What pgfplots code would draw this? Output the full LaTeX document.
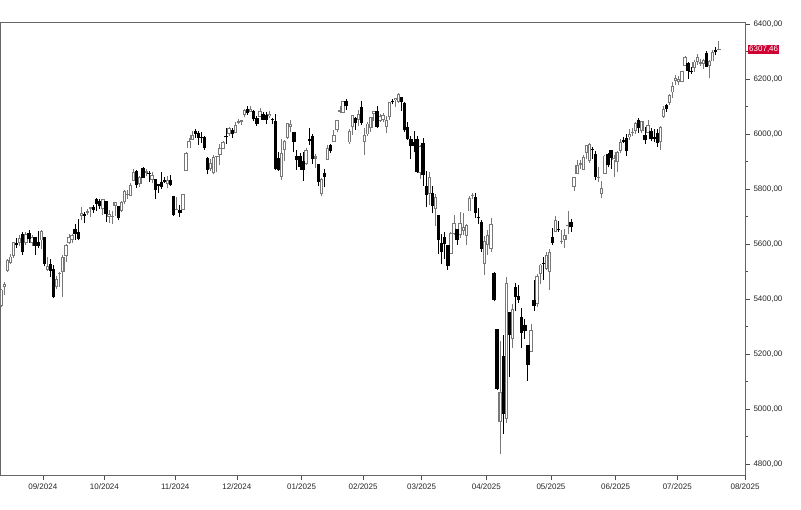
\documentclass[border=0pt]{standalone}
\usepackage{pgfplots}
\pgfplotsset{compat=1.18}
\usepackage{pgfplotstable}
\usepackage{fontspec}
\setmainfont{Liberation Sans}
\definecolor{upc}{RGB}{120,120,120}
\definecolor{lab}{RGB}{208,0,50}
\newcommand\tkf{\fontsize{8bp}{9.6bp}\selectfont}

\pgfplotstableread{
i o h l c
0 5376.1 5436.5 5370.1 5434.4
1 5442.3 5463.2 5416.0 5455.2
2 5501.8 5546.2 5497.6 5543.2
3 5530.5 5561.9 5525.7 5554.3
4 5557.2 5608.3 5550.7 5608.3
5 5602.9 5620.5 5585.5 5597.1
6 5603.1 5632.7 5591.6 5620.9
7 5637.8 5643.2 5560.9 5570.6
8 5602.0 5641.8 5595.1 5634.6
9 5639.7 5651.6 5602.3 5616.8
10 5602.9 5631.2 5593.5 5625.8
11 5624.5 5627.0 5560.9 5592.2
12 5607.3 5646.9 5583.7 5591.9
13 5612.7 5651.4 5581.3 5648.4
14 5623.9 5623.9 5521.2 5528.9
15 5506.7 5552.0 5503.4 5520.1
16 5527.6 5546.3 5480.6 5503.4
17 5507.3 5522.5 5402.6 5408.4
18 5442.1 5484.2 5434.5 5471.1
19 5490.5 5497.9 5441.7 5495.5
20 5496.4 5560.4 5407.0 5554.1
21 5557.5 5600.7 5535.5 5595.8
22 5603.3 5636.3 5601.6 5626.0
23 5615.2 5636.3 5604.5 5633.1
24 5655.5 5670.8 5614.1 5634.6
25 5641.7 5689.8 5615.1 5618.3
26 5702.6 5733.6 5686.4 5713.6
27 5709.0 5715.1 5674.5 5702.6
28 5711.9 5725.4 5704.9 5718.6
29 5727.0 5735.3 5699.0 5732.9
30 5733.6 5741.0 5712.1 5722.3
31 5762.2 5767.4 5721.0 5745.4
32 5755.4 5763.8 5727.3 5738.2
33 5727.7 5765.1 5703.5 5762.5
34 5757.7 5757.7 5681.3 5708.8
35 5698.2 5722.4 5677.3 5709.5
36 5698.2 5718.8 5670.8 5699.9
37 5737.8 5753.2 5702.8 5751.1
38 5737.8 5739.3 5686.9 5695.9
39 5719.1 5757.6 5714.6 5751.1
40 5751.8 5796.8 5745.0 5792.0
41 5778.4 5795.0 5764.8 5780.1
42 5775.1 5822.1 5775.1 5815.0
43 5829.8 5871.4 5829.8 5859.9
44 5866.7 5870.4 5804.5 5815.3
45 5816.6 5846.5 5808.3 5842.5
46 5875.6 5878.5 5840.3 5841.5
47 5859.4 5872.2 5846.1 5864.7
48 5857.8 5866.9 5824.8 5854.0
49 5832.7 5863.0 5821.2 5851.2
50 5834.5 5834.9 5762.4 5797.4
51 5817.8 5817.8 5784.9 5809.9
52 5826.8 5862.8 5799.0 5808.1
53 5833.9 5842.9 5823.1 5823.5
54 5819.7 5847.2 5802.2 5832.9
55 5832.7 5850.9 5811.3 5813.7
56 5775.3 5775.3 5702.9 5705.5
57 5723.2 5772.1 5723.2 5728.8
58 5725.2 5741.4 5696.5 5712.7
59 5722.4 5783.4 5722.1 5782.8
60 5864.9 5936.1 5864.9 5929.0
61 5947.2 5983.8 5947.2 5973.1
62 5976.8 6012.5 5976.8 5995.5
63 6008.9 6017.3 5986.7 6001.4
64 6003.6 6009.9 5960.1 5984.0
65 5985.7 6008.2 5965.9 5985.4
66 5989.1 5993.9 5942.3 5949.2
67 5912.8 5915.3 5853.0 5870.6
68 5874.2 5908.1 5866.0 5893.6
69 5857.3 5923.2 5853.0 5917.0
70 5914.6 5920.7 5860.6 5917.1
71 5924.3 5963.8 5885.3 5948.7
72 5944.4 5972.9 5944.4 5969.3
73 5992.3 6020.8 5963.9 5987.4
74 6000.0 6025.4 5992.3 6021.6
75 6014.1 6020.2 5984.9 5998.7
76 6004.0 6044.2 6004.0 6032.4
77 6040.1 6053.6 6035.3 6047.2
78 6043.0 6052.1 6033.4 6049.9
79 6069.4 6089.8 6061.1 6086.5
80 6089.3 6100.0 6070.0 6075.1
81 6081.4 6099.9 6080.0 6090.3
82 6084.0 6088.5 6048.6 6052.9
83 6057.6 6065.4 6029.9 6034.9
84 6060.2 6092.6 6060.2 6084.2
85 6074.3 6079.7 6051.3 6051.3
86 6068.2 6078.6 6035.8 6051.1
87 6063.8 6085.2 6059.1 6074.1
88 6052.6 6057.7 6035.2 6050.6
89 6047.7 6070.7 5867.8 5872.2
90 5912.7 5935.5 5866.1 5867.1
91 5842.0 5982.1 5832.3 5930.9
92 5940.3 5978.3 5902.6 5974.1
93 5984.7 6040.1 5981.4 6040.0
94 6025.0 6049.8 6007.4 6037.6
95 6006.2 6006.2 5933.0 5970.8
96 5920.7 5940.8 5869.2 5906.9
97 5919.7 5929.7 5868.9 5881.6
98 5903.3 5935.1 5829.5 5868.6
99 5891.1 5949.3 5888.7 5942.5
100 5982.8 6021.0 5960.0 5975.4
101 5993.3 6000.7 5890.7 5909.0
102 5910.7 5927.9 5874.8 5918.3
103 5890.7 5890.7 5809.6 5827.0
104 5782.3 5839.8 5773.4 5836.2
105 5859.4 5871.9 5805.6 5842.9
106 5905.2 5960.6 5905.2 5949.9
107 5961.0 5964.7 5929.6 5937.3
108 5969.8 6015.0 5969.8 5996.7
109 6014.1 6051.5 6006.9 6049.2
110 6081.4 6100.8 6076.1 6086.4
111 6076.3 6118.7 6074.7 6118.7
112 6121.4 6128.2 6088.7 6101.2
113 5969.0 6017.2 5962.9 6012.3
114 6026.0 6069.1 5994.4 6067.7
115 6057.7 6062.8 6014.5 6039.3
116 6050.8 6086.6 6027.5 6071.2
117 6096.8 6120.9 6030.9 6040.5
118 5969.7 6022.1 5923.9 5994.6
119 5998.1 6042.5 5990.9 6037.9
120 6020.5 6062.9 6007.1 6061.5
121 6072.2 6084.0 6046.8 6083.6
122 6083.1 6101.3 6020.0 6026.0
123 6046.4 6073.4 6044.8 6066.4
124 6049.3 6076.3 6042.3 6068.5
125 6025.1 6063.8 6003.0 6052.0
126 6060.6 6116.9 6051.0 6115.1
127 6115.5 6127.5 6107.6 6114.6
128 6121.6 6129.6 6099.5 6129.6
129 6117.8 6147.4 6111.2 6144.2
130 6134.5 6134.5 6084.6 6117.5
131 6114.1 6114.8 6008.6 6013.1
132 6026.7 6043.7 5977.8 5983.3
133 5982.7 5992.7 5908.5 5955.3
134 5970.9 6009.8 5932.7 5956.1
135 5981.9 5993.7 5858.8 5861.6
136 5856.7 5959.4 5837.7 5954.5
137 5968.3 5986.1 5810.9 5849.7
138 5812.0 5865.1 5732.6 5778.2
139 5781.4 5860.6 5742.4 5842.6
140 5785.9 5812.1 5711.6 5738.5
141 5726.0 5783.0 5666.3 5770.2
142 5705.4 5705.4 5564.0 5614.6
143 5603.7 5636.3 5528.4 5572.1
144 5624.8 5642.2 5546.1 5599.3
145 5594.5 5597.8 5504.7 5521.5
146 5563.9 5645.3 5563.9 5638.9
147 5635.6 5703.5 5631.1 5675.1
148 5654.5 5654.5 5597.8 5614.7
149 5632.4 5715.3 5622.2 5675.3
150 5646.9 5711.2 5632.6 5662.9
151 5630.7 5670.8 5598.0 5667.6
152 5718.1 5775.1 5718.1 5767.6
153 5775.9 5787.0 5764.0 5776.7
154 5771.7 5783.6 5695.1 5712.2
155 5695.6 5732.3 5670.9 5693.3
156 5679.6 5685.9 5572.4 5580.9
157 5527.9 5627.6 5488.7 5611.9
158 5597.5 5650.6 5558.5 5633.1
159 5580.8 5695.3 5571.5 5671.0
160 5492.7 5499.5 5390.8 5396.5
161 5292.1 5292.1 5069.9 5074.1
162 4953.8 5246.6 4835.0 5062.3
163 5193.6 5267.5 4910.4 4982.8
164 4965.3 5481.3 4948.4 5456.9
165 5353.2 5353.2 5115.3 5268.1
166 5255.6 5381.5 5220.8 5363.4
167 5442.0 5459.5 5358.0 5406.0
168 5412.0 5450.4 5386.4 5396.6
169 5335.8 5367.2 5220.8 5275.7
170 5305.5 5328.3 5255.6 5282.7
171 5232.9 5232.9 5101.6 5158.2
172 5207.7 5309.6 5207.7 5287.8
173 5395.9 5469.7 5356.1 5375.9
174 5381.4 5489.4 5372.0 5484.8
175 5489.7 5528.1 5455.9 5525.2
176 5529.2 5553.7 5468.6 5528.8
177 5508.9 5572.0 5505.7 5560.8
178 5499.4 5581.8 5433.2 5569.1
179 5625.1 5658.9 5597.4 5604.1
180 5645.0 5700.7 5644.0 5686.7
181 5655.3 5684.0 5643.6 5650.4
182 5606.9 5649.1 5598.2 5606.9
183 5614.3 5654.6 5586.1 5631.3
184 5663.9 5720.1 5635.6 5663.9
185 5679.8 5691.7 5644.6 5659.9
186 5807.9 5845.0 5794.1 5844.2
187 5854.0 5906.6 5853.0 5886.6
188 5887.0 5906.6 5872.6 5892.6
189 5869.5 5924.7 5867.4 5916.9
190 5929.1 5958.6 5907.4 5958.4
191 5902.9 5968.6 5895.7 5963.6
192 5944.7 5953.1 5909.3 5940.5
193 5928.4 5938.4 5830.9 5844.6
194 5841.3 5878.1 5825.8 5842.0
195 5781.9 5829.5 5767.4 5802.8
196 5854.1 5924.0 5853.2 5921.5
197 5925.5 5929.0 5878.1 5888.6
198 5939.9 5943.1 5873.8 5912.2
199 5903.7 5922.1 5843.7 5911.7
200 5896.7 5937.4 5861.4 5935.9
201 5938.6 5981.1 5929.0 5970.4
202 5978.1 5990.5 5966.1 5970.8
203 5985.7 5999.7 5921.2 5939.3
204 5987.1 6016.9 5978.6 6000.4
205 6004.6 6021.3 5994.2 6005.9
206 6009.9 6043.0 6000.3 6038.8
207 6049.4 6059.4 6002.3 6022.2
208 6009.9 6045.4 6003.9 6045.3
209 5996.0 6026.2 5963.2 5977.0
210 6004.0 6050.8 6004.0 6033.1
211 6012.2 6023.3 5974.8 5982.7
212 5987.9 6018.3 5971.9 5980.9
213 6004.1 6018.2 5952.6 5967.8
214 5969.7 6028.3 5943.2 6025.2
215 6061.2 6101.8 6059.3 6092.2
216 6104.2 6108.5 6080.1 6092.2
217 6112.1 6146.5 6105.7 6141.0
218 6150.7 6187.7 6132.3 6173.1
219 6193.4 6215.1 6178.0 6205.0
220 6187.3 6210.8 6178.0 6198.0
221 6187.3 6227.6 6187.3 6227.4
222 6246.4 6284.7 6246.4 6279.4
223 6259.0 6262.3 6201.0 6230.0
224 6229.5 6242.7 6218.0 6225.5
225 6240.6 6269.2 6226.6 6263.3
226 6263.3 6290.2 6251.8 6280.5
227 6255.7 6271.6 6247.8 6259.8
228 6255.2 6273.3 6237.8 6268.6
229 6295.3 6302.0 6242.3 6243.8
230 6248.3 6270.0 6201.8 6263.7
231 6263.4 6304.0 6263.4 6297.4
232 6304.4 6315.6 6285.3 6296.8
233 6304.7 6336.1 6303.8 6305.6
}\data

\begin{document}
\begin{tikzpicture}
\useasboundingbox (0,-35bp) rectangle (801bp,475bp);
\begin{axis}[
  at={(0,0)}, anchor=south west, scale only axis,
  width=745bp, height=453bp,
  xmin=-0.4, xmax=241.5, ymin=4760, ymax=6407,
  clip mode=individual,
  axis line style={black!60, line width=0.6bp},
  xtick={13.5,33.5,56.5,76.5,97.5,117.5,136.5,157.5,178.5,199.5,219.5,241.5},
  xticklabels={09/2024,10/2024,11/2024,12/2024,01/2025,02/2025,03/2025,04/2025,05/2025,06/2025,07/2025,08/2025},
  ytick={4800,5000,5200,5400,5600,5800,6000,6200,6400},
  yticklabels={{4800,00},{5000,00},{5200,00},{5400,00},{5600,00},{5800,00},{6000,00},{6200,00},{6400,00}},
  minor ytick={4900,5100,5300,5500,5700,5900,6100,6300},
  xtick pos=left, ytick pos=right, yticklabel pos=right,
  tick align=outside, major tick length=5bp, minor tick length=3bp,
  tick style={black!70, line width=0.6bp},
  ticklabel style={font=\tkf, text=black!85},
  candle/.style={only marks, mark=*, mark size=0pt,
    mark options={draw opacity=0, fill opacity=0},
    error bars/y dir=plus, error bars/y explicit, error bars/error mark=none},
]
% up candles: wicks
\addplot[upc, candle,
  restrict expr to domain={\thisrow{c}-\thisrow{o}}{0:100000},
  error bars/error bar style={draw=upc, line width=0.8bp, solid}]
  table[x=i, y=l, y error plus expr={\thisrow{h}-\thisrow{l}}] {\data};
% down candles: wicks
\addplot[black, candle,
  restrict expr to domain={\thisrow{c}-\thisrow{o}}{-100000:-0.001},
  error bars/error bar style={draw=black, line width=0.8bp, solid}]
  table[x=i, y=l, y error plus expr={\thisrow{h}-\thisrow{l}}] {\data};
% up bodies outline
\addplot[upc, candle,
  restrict expr to domain={\thisrow{c}-\thisrow{o}}{0:100000},
  error bars/error bar style={draw=upc, line width=3.4bp, solid}]
  table[x=i, y=o, y error plus expr={max(\thisrow{c}-\thisrow{o},3.5)}] {\data};
% up bodies white inside
\addplot[white, candle,
  restrict expr to domain={\thisrow{c}-\thisrow{o}}{8:100000},
  error bars/error bar style={draw=white, line width=1.3bp, solid}]
  table[x=i, y expr={\thisrow{o}+3.5}, y error plus expr={\thisrow{c}-\thisrow{o}-7}] {\data};
% down bodies
\addplot[black, candle,
  restrict expr to domain={\thisrow{c}-\thisrow{o}}{-100000:-0.001},
  error bars/error bar style={draw=black, line width=3.4bp, solid}]
  table[x=i, y=c, y error plus expr={max(\thisrow{o}-\thisrow{c},3.5)}] {\data};
\node[fill=lab, text=white, anchor=west, xshift=2.5bp, inner xsep=1bp, inner ysep=1.2bp, font=\tkf]
  at (axis cs:241.5,6307.46) {\hspace*{0.5bp}6307,46};
\end{axis}
\end{tikzpicture}
\end{document}
